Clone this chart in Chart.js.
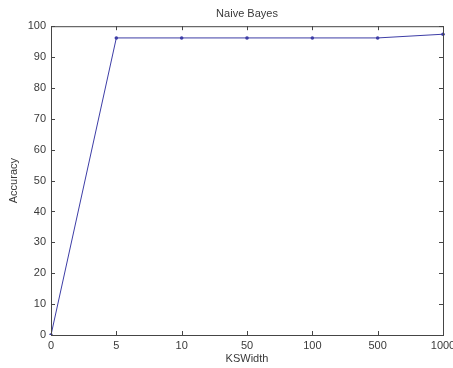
<!DOCTYPE html>
<html>
<head>
<meta charset="utf-8">
<script src="https://cdn.jsdelivr.net/npm/chart.js@4.4.0/dist/chart.umd.min.js"></script>
<style>
  html, body { margin: 0; padding: 0; background: #fff; }
  #wrap { width: 453px; height: 368px; }
</style>
</head>
<body>
<div id="wrap"><canvas id="chart"></canvas></div>
<script>
const kswidth = ["0", "5", "10", "50", "100", "500", "1000"];
const accuracy = [0, 96.2, 96.2, 96.2, 96.2, 96.2, 97.4];
const yTicks = [0, 10, 20, 30, 40, 50, 60, 70, 80, 90, 100];

const axisColor = "#454545";
const textColor = "#3a3a3a";
const font = { family: "'Liberation Sans', Arial, sans-serif", size: 11 };

// caja y marcas hacia adentro, estilo matlab
const boxPlugin = {
  id: "box",
  afterDraw(chart) {
    const { ctx, chartArea: a, scales } = chart;
    ctx.save();
    ctx.strokeStyle = axisColor;
    ctx.lineWidth = 1;
    ctx.strokeRect(a.left + 0.5, a.top + 0.5, a.right - a.left, a.bottom - a.top);
    ctx.beginPath();
    scales.x.ticks.forEach((t, i) => {
      const px = Math.round(scales.x.getPixelForTick(i)) + 0.5;
      ctx.moveTo(px, a.bottom); ctx.lineTo(px, a.bottom - 4);
      ctx.moveTo(px, a.top); ctx.lineTo(px, a.top + 4);
    });
    scales.y.ticks.forEach((t, i) => {
      const py = Math.round(scales.y.getPixelForTick(i)) + 0.5;
      ctx.moveTo(a.left, py); ctx.lineTo(a.left + 4, py);
      ctx.moveTo(a.right, py); ctx.lineTo(a.right - 4, py);
    });
    ctx.stroke();
    ctx.restore();
  },
};

new Chart(document.getElementById("chart"), {
  type: "line",
  data: {
    labels: kswidth,
    datasets: [{
      label: "Naive Bayes",
      data: accuracy,
      borderColor: "#3d3da6",
      backgroundColor: "#3d3da6",
      borderWidth: 1,
      pointRadius: 1.8,
      pointBorderWidth: 0,
      tension: 0,
    }],
  },
  options: {
    responsive: true,
    maintainAspectRatio: false,
    animation: false,
    layout: { autoPadding: false, padding: { top: 0, right: 10, left: 0, bottom: 0 } },
    plugins: {
      legend: { display: false },
      tooltip: { enabled: false },
      title: {
        display: true,
        fullSize: false,
        text: "Naive Bayes",
        color: textColor,
        font: { ...font, weight: "normal" },
        padding: { top: 7, bottom: 6 },
      },
    },
    scales: {
      x: {
        offset: false,
        grid: { display: false, drawTicks: false },
        border: { display: false },
        ticks: { color: textColor, font, padding: 4, maxRotation: 0, autoSkip: false },
        title: { display: true, text: "KSWidth", color: textColor, font, padding: { top: 0, bottom: 2 } },
        afterFit: (s) => { s.height = 33; s.paddingLeft = 0; s.paddingRight = 0; },
      },
      y: {
        min: 0,
        max: 100,
        afterBuildTicks: (s) => { s.ticks = yTicks.map((v) => ({ value: v })); },
        grid: { display: false, drawTicks: false },
        border: { display: false },
        ticks: { color: textColor, font, padding: 5 },
        title: { display: true, text: "Accuracy", color: textColor, font, padding: { top: 7, bottom: 0 } },
        afterFit: (s) => { s.width = 51; s.paddingTop = 0; s.paddingBottom = 0; },
      },
    },
  },
  plugins: [boxPlugin],
});
</script>
</body>
</html>
